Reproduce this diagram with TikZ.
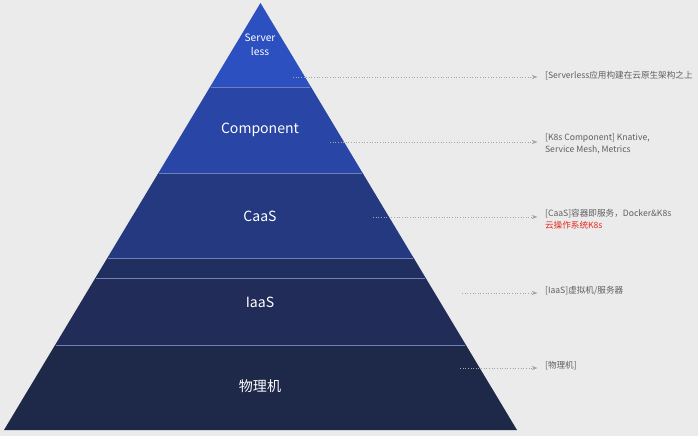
\documentclass[tikz,border=0pt]{standalone}
\usepackage{fontspec}
\setmainfont{Noto Sans CJK SC}
\usepackage{tikz}
\usetikzlibrary{arrows.meta,positioning}
\definecolor{bgrey}{RGB}{235,235,235}
\definecolor{lvlserver}{RGB}{44,80,192}
\definecolor{lvlcomp}{RGB}{41,70,166}
\definecolor{lvlcaas}{RGB}{37,57,128}
\definecolor{lvlgap}{RGB}{33,47,96}
\definecolor{lvliaas}{RGB}{33,44,88}
\definecolor{lvlphys}{RGB}{30,40,72}
\definecolor{sepline}{RGB}{110,130,185}
\definecolor{notegrey}{RGB}{95,95,95}
\definecolor{leadgrey}{RGB}{165,165,165}
\definecolor{notered}{RGB}{230,40,30}

\begin{document}
\begin{tikzpicture}[x=0.02cm, y=-0.02cm,
        level/.style={draw=none},
        sep/.style={draw=sepline, line width=0.5pt},
        lvltext/.style={text=white, font=\fontsize{8}{9}\selectfont, align=center},
        note/.style={anchor=west, text=notegrey, font=\fontsize{4.9}{6.8}\selectfont, align=left, inner sep=1pt},
        lead/.style={-{Stealth[length=1.2mm,width=0.8mm]}, draw=leadgrey, densely dotted, line width=0.5pt, shorten >=3pt}
      ]
      \fill[bgrey] (0,0) rectangle (698,436);
      \useasboundingbox (0,0) rectangle (698,436);

      % pyramid levels
      \fill[level, lvlserver] (260.5,3) -- (311,87) -- (210,87) -- cycle;
      \fill[level, lvlcomp] (210,87) -- (311,87) -- (362.6,173) -- (158.4,173) -- cycle;
      \fill[level, lvlcaas] (158.4,173) -- (362.6,173) -- (413.7,258) -- (107.3,258) -- cycle;
      \fill[level, lvlgap] (107.3,258) -- (413.7,258) -- (425.7,278) -- (95.3,278) -- cycle;
      \fill[level, lvliaas] (95.3,278) -- (425.7,278) -- (465.9,345) -- (55.1,345) -- cycle;
      \fill[level, lvlphys] (55.1,345) -- (465.9,345) -- (517,430) -- (4,430) -- cycle;
      \draw[sep] (211,87) -- (310,87);
      \draw[sep] (159,173) -- (362,173);
      \draw[sep] (108,258) -- (413,258);
      \draw[sep] (96,278) -- (425,278);
      \draw[sep] (56,345) -- (465,345);

      \node[lvltext, font=\fontsize{5.8}{7.8}\selectfont] (serverless) at (260,45) {Server\\less};
      \node[lvltext] (component) at (260,130) {Component};
      \node[lvltext] (caas) at (260,216) {CaaS};
      \node[lvltext] (iaas) at (260,302) {IaaS};
      \node[lvltext] (phys) at (260,386) {物理机};

      % notes on the right
      \node[note] (noteserver) at (543,76) {[Serverless应用构建在云原生架构之上};
      \node[note] (notecomp) at (543,144) {[K8s Component] Knative,\\Service Mesh, Metrics};
      \node[note] (notecaas) at (543,219) {[CaaS]容器即服务，Docker\&K8s\\\textcolor{notered}{云操作系统K8s}};
      \node[note] (noteiaas) at (543,291) {[IaaS]虚拟机/服务器};
      \node[note] (notephys) at (543,366) {[物理机]};

      \coordinate (fromserver) at (293,77);
      \coordinate (fromcomp) at (330,142);
      \coordinate (fromcaas) at (373,217);
      \coordinate (fromiaas) at (462,293);
      \coordinate (fromphys) at (460,368);
      \draw[lead] (fromserver) -- (fromserver -| noteserver.west);
      \draw[lead] (fromcomp) -- (fromcomp -| notecomp.west);
      \draw[lead] (fromcaas) -- (fromcaas -| notecaas.west);
      \draw[lead] (fromiaas) -- (fromiaas -| noteiaas.west);
      \draw[lead] (fromphys) -- (fromphys -| notephys.west);
    \end{tikzpicture}
\end{document}
